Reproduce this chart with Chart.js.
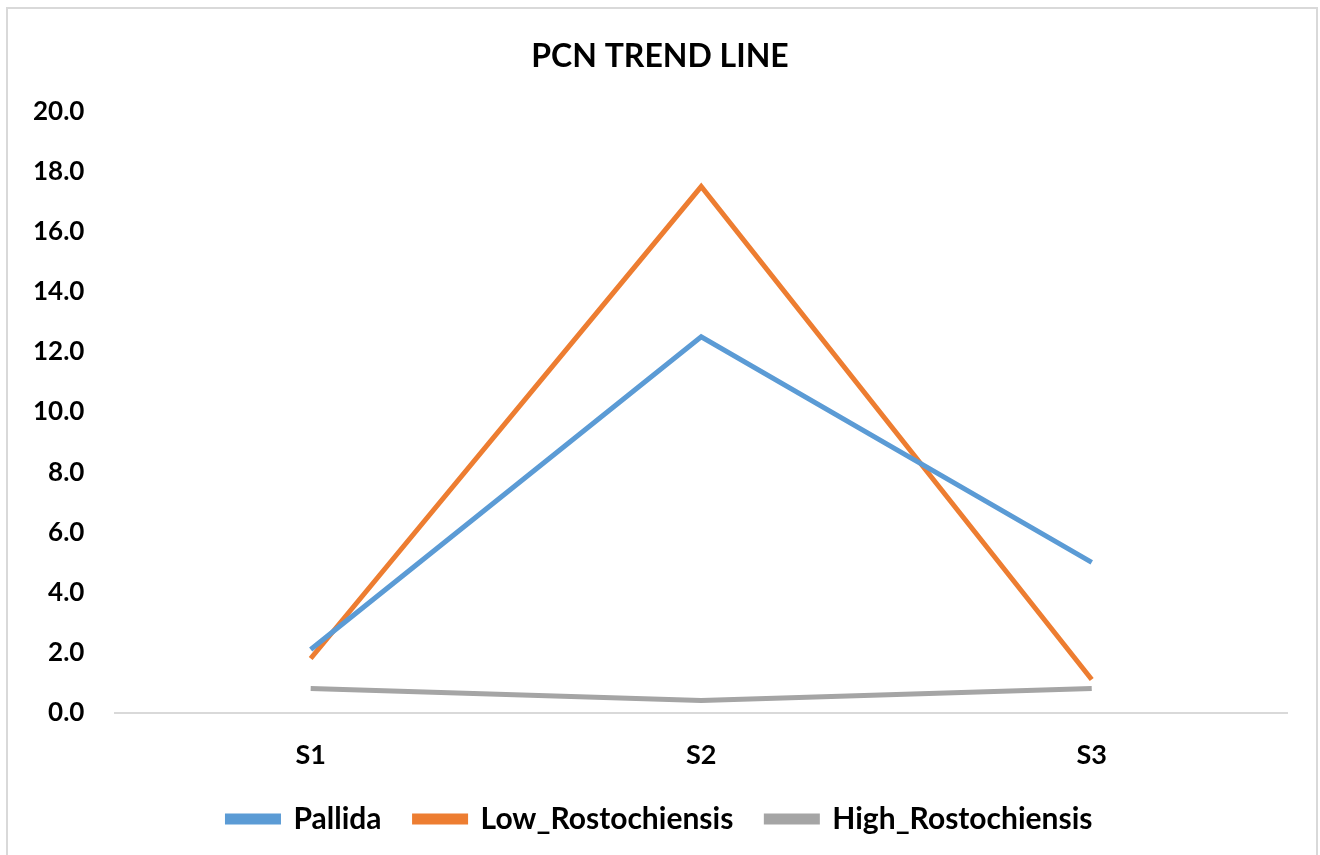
<!DOCTYPE html>
<html>
<head>
<meta charset="utf-8">
<script src="https://cdn.jsdelivr.net/npm/chart.js@4"></script>
<style>
  html, body { margin: 0; padding: 0; background: #fff; overflow: hidden; }
  #chart { position: absolute; left: 0; top: 0; }
  .frame { position: absolute; left: 6px; top: 7px; width: 1312px; height: 900px; border: 2px solid #d9d9d9; box-sizing: border-box; pointer-events: none; }
</style>
</head>
<body>
<canvas id="chart" width="1320" height="855"></canvas>
<div class="frame"></div>
<script>
  const categories = ["S1", "S2", "S3"];
  const pallida = [2.1, 12.5, 5.0];
  const lowRosto = [1.8, 17.5, 1.1];
  const highRosto = [0.8, 0.4, 0.8];

  const font = "Lato, 'Open Sans', sans-serif";
  const ctx = document.getElementById("chart").getContext("2d");

  function series(label, values, color) {
    return {
      label: label,
      data: values,
      borderColor: color,
      backgroundColor: color,
      borderWidth: 5,
      pointRadius: 0,
      tension: 0,
    };
  }

  new Chart(ctx, {
    type: "line",
    data: {
      labels: categories,
      datasets: [
        series("Pallida", pallida, "#5B9BD5"),
        series("Low_Rostochiensis", lowRosto, "#ED7D31"),
        series("High_Rostochiensis", highRosto, "#A5A5A5"),
      ],
    },
    options: {
      responsive: false,
      animation: false,
      layout: { padding: { left: 33, right: 33, top: 10, bottom: 11 } },
      plugins: {
        title: {
          display: true,
          text: "PCN TREND LINE",
          color: "#000",
          font: { family: font, size: 32, weight: "bold" },
          padding: { top: 27, bottom: 36 },
        },
        legend: {
          position: "bottom",
          labels: {
            color: "#000",
            font: { family: font, size: 30, weight: "bold" },
            boxWidth: 51,
            boxHeight: 6,
            padding: 33,
          },
        },
        tooltip: { enabled: false },
      },
      scales: {
        x: {
          offset: true,
          // ticks hidden, tickLength only spaces the labels away from the axis
          grid: { display: false, tickLength: 26 },
          border: { display: true, color: "#d9d9d9", width: 2 },
          ticks: {
            color: "#000",
            padding: 0,
            font: { family: font, size: 27, weight: "bold" },
          },
        },
        y: {
          min: 0,
          max: 20,
          grid: { display: false, tickLength: 31 },
          border: { display: false },
          ticks: {
            stepSize: 2,
            color: "#000",
            padding: 0,
            font: { family: font, size: 26, weight: "bold" },
            callback: (v) => v.toFixed(1),
          },
        },
      },
    },
  });
</script>
</body>
</html>
